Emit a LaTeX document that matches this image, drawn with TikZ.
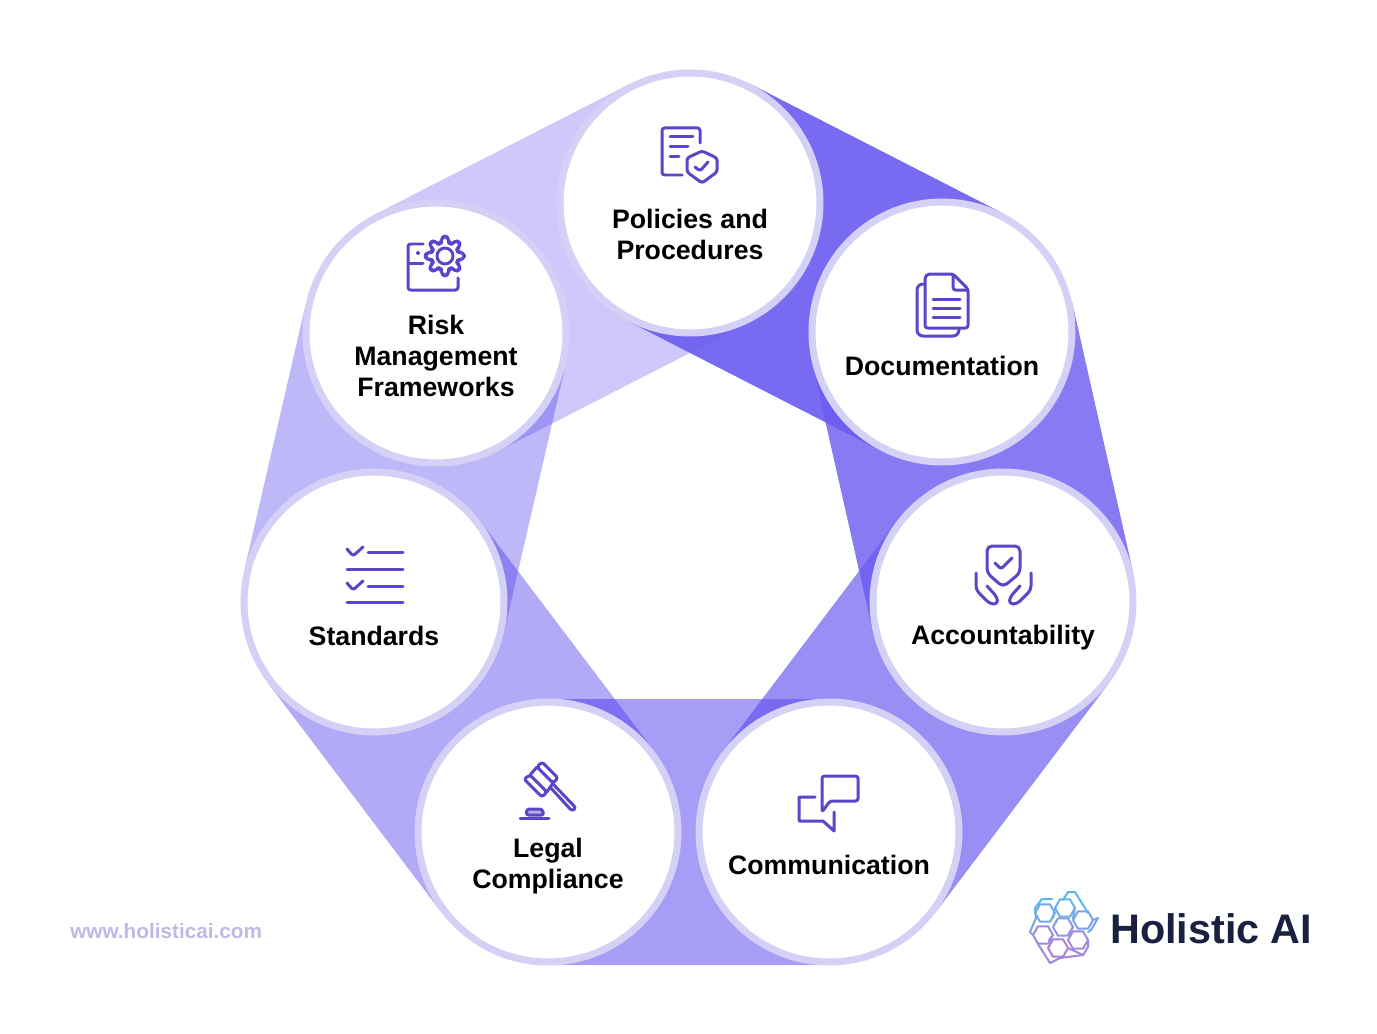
\documentclass[tikz,border=0pt]{standalone}
\usepackage{fontspec}
\setmainfont{Liberation Sans}
\usetikzlibrary{backgrounds}
\definecolor{bandc}{HTML}{4430EC}
\definecolor{ringc}{HTML}{D4D0F6}
\definecolor{iconc}{HTML}{5B45C8}
\definecolor{logoc}{HTML}{1A2140}
\definecolor{webc}{HTML}{BDB9E8}
\definecolor{hextop}{HTML}{58BCEE}
\definecolor{hexbot}{HTML}{B47AD8}
\tikzset{
	disc/.style={circle,draw=ringc,fill=white,line width=0.14cm,minimum size=5.2cm,inner sep=0pt},
	band/.style={line width=5.34cm,draw opacity=#1},
	lab/.style={font=\bfseries\fontsize{15.2}{17.6}\selectfont,align=center,text=black,inner sep=0pt},
	icon/.style={draw=iconc,line width=0.06cm,line cap=round,line join=round,rounded corners=0.05cm},
	hexline/.style={color=hexbot!#1!hextop,line width=0.04cm,line join=round,line cap=round}
}
\begin{document}
\begin{tikzpicture}[x=0.02cm,y=-0.02cm]
	\useasboundingbox (0,0) rectangle (1377,1034);
	\node[disc] (policies) at (690,203) {};
	\node[disc] (docs) at (942,332) {};
	\node[disc] (account) at (1003,602) {};
	\node[disc] (comm) at (829,832) {};
	\node[disc] (legal) at (548,832) {};
	\node[disc] (stand) at (374,602) {};
	\node[disc] (risk) at (436,333) {};
	\begin{pgfonlayer}{background}
		\fill[white] (0,0) rectangle (1377,1034);
		\foreach \a/\b/\o/\m in {risk/policies/.26/100,stand/risk/.34/100,legal/stand/.41/100,comm/legal/.47/100,account/comm/.64/85,docs/account/.8/80,policies/docs/.9/79}
			\draw[band=\o,draw=bandc!\m!white] (\a.center)--(\b.center);
	\end{pgfonlayer}
	\path
	(690,234)node[lab](lpolicies){Policies and\\Procedures}
	(942,366)node[lab](ldocs){Documentation}
	(1003,638)node[lab](laccount){Accountability}
	(829,865)node[lab](lcomm){Communication}
	(548,866)node[lab](llegal){Legal\\Compliance}
	(374,636)node[lab](lstand){Standards}
	(436,356)node[lab](lrisk){Risk\\Management\\Frameworks}
	;
	% policies
	\draw[icon] (700,143)--(700,128)--(662,128)--(662,175)--(682,175);
	\draw[icon] (670,137)--(693,137) (670,147)--(688,147) (670,157)--(679,157);
	\draw[icon] (702,151)--(687,158)--(687,172)--(702,183)--(717,172)--(717,158)--cycle;
	\draw[icon] (695,167)--(700,171)--(708,162);
	% documentation
	\draw[icon] (953,274)--(928,274)--(925,277)--(925,328)--(968,328)--(968,289)--cycle;
	\draw[icon] (953,275)--(953,290)--(968,290);
	\draw[icon,rounded corners=0.12cm] (925,284)--(917,284)--(917,336)--(959,336)--(959,328);
	\draw[icon] (933,299)--(960,299) (933,308)--(960,308) (933,317)--(960,317);
	% risk
	\draw[icon] (423,244)--(408,244)--(408,290)--(458,290)--(458,278);
	\draw[icon] (408,263)--(423,263);
	\fill[iconc] (418,253) circle (2);
	\draw[icon,smooth,samples=73,domain=0:360,variable=\t] plot ({445+(16.5+2.5*cos(8*\t))*cos(\t)},{256+(16.5+2.5*cos(8*\t))*sin(\t)});
	\draw[icon] (445,256) circle (8);
	% standards
	\draw[icon] (347,549)--(353,556)--(363,547) (347,583)--(353,590)--(363,581);
	\draw[icon] (368,552)--(403,552) (347,569)--(403,569) (368,586)--(403,586) (347,602)--(403,602);
	% accountability
	\draw[icon,rounded corners=0.1cm] (987,573)--(987,546)--(1020,546)--(1020,573)--(1003,587)--cycle;
	\draw[icon] (995,563)--(1001,569)--(1012,558);
	\draw[icon,rounded corners=0.08cm] (976,573)--(976,590)--(990,604)--(998,604)--(997,597)--(987,586);
	\draw[icon,rounded corners=0.08cm] (1031,573)--(1031,590)--(1017,604)--(1009,604)--(1010,597)--(1020,586);
	% legal
	\draw[icon] (542,762)--(558,778)--(553,783)--(537,767)--cycle;
	\draw[icon] (530,775)--(547,792)--(542,797)--(524,779)--cycle;
	\draw[icon] (537,767)--(530,775) (553,783)--(547,792);
	\draw[icon] (550,787)--(572,811)--(576,808)--(553,784);
	\draw[icon,fill=iconc!45] (526,815)--(527,809)--(542,809)--(544,815)--cycle;
	\draw[icon] (520,818)--(549,818);
	% communication
	\draw[icon] (822,812)--(822,776)--(858,776)--(858,801)--(830,801)--cycle;
	\draw[icon,rounded corners=0pt] (815,797)--(799,797)--(799,821)--(823,821)--(834,831)--(834,812);
	% logo
	\foreach \hx/\hy in {1065/908,1045/913,1083/920,1063/927,1043/935,1078/940,1058/948}{
		\pgfmathtruncatemacro{\mix}{min(100,max(0,(\hy-900)/50*100))}
		\draw[hexline=\mix] (\hx+10,\hy)--(\hx+5,\hy+8.7)--(\hx-5,\hy+8.7)--(\hx-10,\hy)--(\hx-5,\hy-8.7)--(\hx+5,\hy-8.7)--cycle;
	}
	\draw[hexline=5] (1063,900)--(1068,892)--(1075,892)--(1088,913);
	\draw[hexline=5] (1036,918)--(1035,908)--(1042,899)--(1052,899);
	\draw[hexline=35] (1093,920)--(1098,918)--(1091,930)--(1088,932);
	\draw[hexline=40] (1036,918)--(1030,932)--(1033,935);
	\draw[hexline=75] (1088,940)--(1088,947)--(1083,955)--(1068,948);
	\draw[hexline=80] (1038,944)--(1050,963)--(1060,958)--(1083,955);
	\draw[hexline=25] (1055,908)--(1053,918) (1075,908)--(1073,918);
	\draw[hexline=65] (1053,935)--(1049,940) (1073,927)--(1068,935);
	\path
	(1110,929)node[anchor=west,inner sep=0pt,text=logoc,font=\bfseries\fontsize{23.5}{28}\selectfont](brand){Holistic AI}
	(70,931)node[anchor=west,inner sep=0pt,text=webc,font=\bfseries\fontsize{11.8}{14}\selectfont](web){www.holisticai.com}
	;
\end{tikzpicture}
\end{document}
